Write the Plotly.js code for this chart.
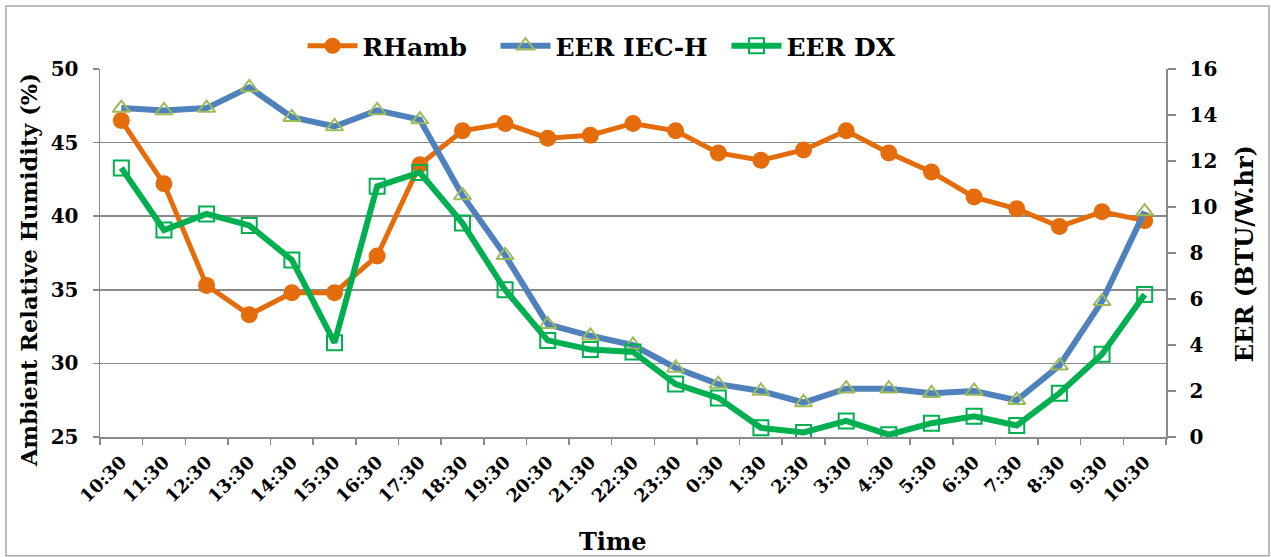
<!DOCTYPE html>
<html>
<head>
<meta charset="utf-8">
<script src="https://cdn.plot.ly/plotly-3.0.1.min.js"></script>
<style>
  html, body { margin: 0; padding: 0; background: #ffffff; }
  #chart { width: 1271px; height: 557px; }
</style>
</head>
<body>
<div id="chart"></div>
<script>
// ---- data ----
const times = ["10:30","11:30","12:30","13:30","14:30","15:30","16:30","17:30","18:30","19:30",
               "20:30","21:30","22:30","23:30","0:30","1:30","2:30","3:30","4:30","5:30",
               "6:30","7:30","8:30","9:30","10:30"];
const rhAmb = [46.5, 42.2, 35.3, 33.3, 34.8, 34.8, 37.3, 43.5, 45.8, 46.3,
               45.3, 45.5, 46.3, 45.8, 44.3, 43.8, 44.5, 45.8, 44.3, 43.0,
               41.3, 40.5, 39.3, 40.3, 39.7];
const eerIecH = [14.3, 14.2, 14.3, 15.2, 13.9, 13.5, 14.2, 13.8, 10.5, 7.9,
                 4.9, 4.4, 4.0, 3.0, 2.3, 2.0, 1.5, 2.1, 2.1, 1.9,
                 2.0, 1.6, 3.1, 5.9, 9.8];
const eerDx = [11.7, 9.0, 9.7, 9.2, 7.7, 4.1, 10.9, 11.5, 9.3, 6.4,
               4.2, 3.8, 3.7, 2.3, 1.7, 0.4, 0.2, 0.7, 0.1, 0.6,
               0.9, 0.5, 1.9, 3.6, 6.2];
const leftTicks = [25, 30, 35, 40, 45, 50];
const rightTicks = [0, 2, 4, 6, 8, 10, 12, 14, 16];

// category positions (times repeat, so categories are keyed by index)
const idx = times.map((t, i) => String(i));

const FONT = "DejaVu Serif";
const GRID = "#8a8a8a";

const traces = [
  {
    name: "RHamb", x: idx, y: rhAmb, yaxis: "y", mode: "lines+markers", legend: "legend",
    line: { color: "#E46C0A", width: 5 },
    marker: { symbol: "circle", size: 17, color: "#E46C0A" }
  },
  {
    name: "EER IEC-H", x: idx, y: eerIecH, yaxis: "y2", mode: "lines+markers", legend: "legend2",
    line: { color: "#4F81BD", width: 6 },
    marker: { symbol: "triangle-up-open", size: 15, color: "#9BBB59", line: { width: 2, color: "#9BBB59" } }
  },
  {
    name: "EER DX", x: idx, y: eerDx, yaxis: "y2", mode: "lines+markers", legend: "legend3",
    line: { color: "#00B050", width: 6 },
    marker: { symbol: "square-open", size: 15, color: "#00B050", line: { width: 2, color: "#00B050" } }
  }
];

function legendAt(xp) {
  return {
    orientation: "h", x: xp, xanchor: "left", y: 1.0625, yanchor: "middle",
    font: { family: FONT, size: 25, weight: "bold", color: "#000" },
    itemwidth: 50, itemclick: false, bgcolor: "rgba(0,0,0,0)"
  };
}

const layout = {
  width: 1271, height: 557,
  margin: { l: 100, r: 105, t: 69, b: 120 },
  paper_bgcolor: "#ffffff", plot_bgcolor: "#ffffff",
  font: { family: FONT, color: "#000000", weight: "bold" },
  showlegend: true,
  legend: legendAt(0.190),
  legend2: legendAt(0.371),
  legend3: legendAt(0.5877),
  xaxis: {
    type: "category", range: [-0.5, times.length - 0.5],
    tickmode: "array", tickvals: idx, ticktext: times, tickangle: -45,
    tickson: "boundaries", ticks: "outside", ticklen: 6, tickcolor: GRID, tickwidth: 1.5,
    showline: true, linecolor: GRID, linewidth: 1.5, showgrid: false, zeroline: false,
    tickfont: { family: FONT, size: 18, weight: "bold", color: "#000" },
    ticklabelstandoff: 6
  },
  yaxis: {
    range: [25, 50], tickmode: "array", tickvals: leftTicks,
    ticks: "outside", ticklen: 6, tickcolor: GRID, tickwidth: 1.5,
    showline: true, linecolor: GRID, linewidth: 1.5,
    showgrid: true, gridcolor: GRID, gridwidth: 1.5, zeroline: false,
    tickfont: { family: FONT, size: 20, weight: "bold", color: "#000" },
    ticklabelstandoff: 10
  },
  yaxis2: {
    overlaying: "y", side: "right", range: [0, 16], tickmode: "array", tickvals: rightTicks,
    ticks: "outside", ticklen: 8, tickcolor: GRID, tickwidth: 1.5,
    showline: true, linecolor: GRID, linewidth: 1.5, showgrid: false, zeroline: false,
    tickfont: { family: FONT, size: 20, weight: "bold", color: "#000" },
    ticklabelstandoff: 10
  },
  annotations: [
    { text: "Ambient Relative Humidity (%)", xref: "paper", yref: "paper",
      x: -0.0665, y: 0.4538, xanchor: "center", yanchor: "middle", textangle: -90, showarrow: false,
      font: { family: FONT, size: 22.5, weight: "bold", color: "#000" } },
    { text: "EER (BTU/W.hr)", xref: "paper", yref: "paper",
      x: 1.0732, y: 0.497, xanchor: "center", yanchor: "middle", textangle: -90, showarrow: false,
      font: { family: FONT, size: 24, weight: "bold", color: "#000" } },
    { text: "Time", xref: "paper", yref: "paper",
      x: 0.4812, y: -0.2853, xanchor: "center", yanchor: "middle", showarrow: false,
      font: { family: FONT, size: 24, weight: "bold", color: "#000" } }
  ],
  shapes: [
    { type: "rect", xref: "paper", yref: "paper", x0: -0.0882, x1: 1.0966, y0: -0.323, y1: 1.171,
      line: { color: "#a6a6a6", width: 1.5 }, fillcolor: "rgba(0,0,0,0)", layer: "below" }
  ]
};

Plotly.newPlot("chart", traces, layout, { displayModeBar: false, staticPlot: true });
</script>
</body>
</html>
